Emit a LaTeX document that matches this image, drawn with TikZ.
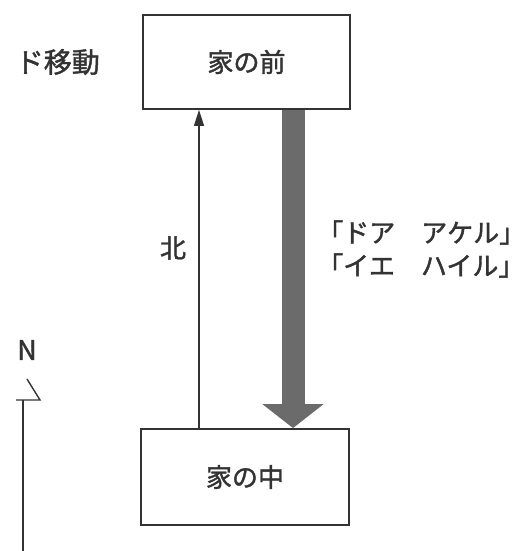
\documentclass[tikz,border=0pt]{standalone}
\usepackage{fontspec}
\newfontfamily\jp[FakeBold=1.5]{Noto Sans CJK JP}
\usetikzlibrary{arrows.meta}
\definecolor{ink}{HTML}{333333}
\definecolor{bar}{HTML}{6B6B6B}
\tikzset{
  place/.style={draw=ink, line width=1.8pt, rectangle, inner sep=0pt, font=\jp\fontsize{26}{28}\selectfont, text=ink},
  label/.style={inner sep=0pt, font=\jp\fontsize{26}{33}\selectfont, text=ink},
  thinarrow/.style={draw=ink, line width=1.2pt, -{Triangle[width=10pt,length=16pt]}},
  thickarrow/.style={draw=bar, line width=23pt, -{Triangle[width=60pt,length=24pt]}, color=bar},
  compass/.style={draw=ink, line width=1.4pt}
}
\begin{document}
\begin{tikzpicture}[x=1pt,y=-1pt]
\useasboundingbox (0,0) rectangle (526,551);
\fill[white] (0,0) rectangle (526,551);
\node[place, minimum width=207pt, minimum height=94pt] (front) at (246.5,62) {家の前};
\node[place, minimum width=208pt, minimum height=96pt] (inside) at (245,477) {家の中};
\node[label, font=\jp\fontsize{28}{33}\selectfont, anchor=east] (title) at (100,62) {ド移動};
\coordinate (tx) at (199,0);
\coordinate (kx) at (293,0);
\draw[thinarrow] (tx |- inside.north) -- (tx |- front.south);
\draw[thickarrow] (kx |- front.south) -- (kx |- inside.north);
\node[label] (north) at (173,248) {北};
\node[label, anchor=west, align=left] (words) at (317,249) {「ドア\quad アケル」\\「イエ\quad ハイル」};
\node[inner sep=0pt, font=\jp\fontsize{27}{30}\selectfont, text=ink] (nmark) at (27,350) {N};
\coordinate (ntip) at (27,379);
\draw[compass] (23,551) -- (23,400);
\draw[compass, line join=miter] (ntip) -- (40,400) -- (16,400);
\end{tikzpicture}
\end{document}
